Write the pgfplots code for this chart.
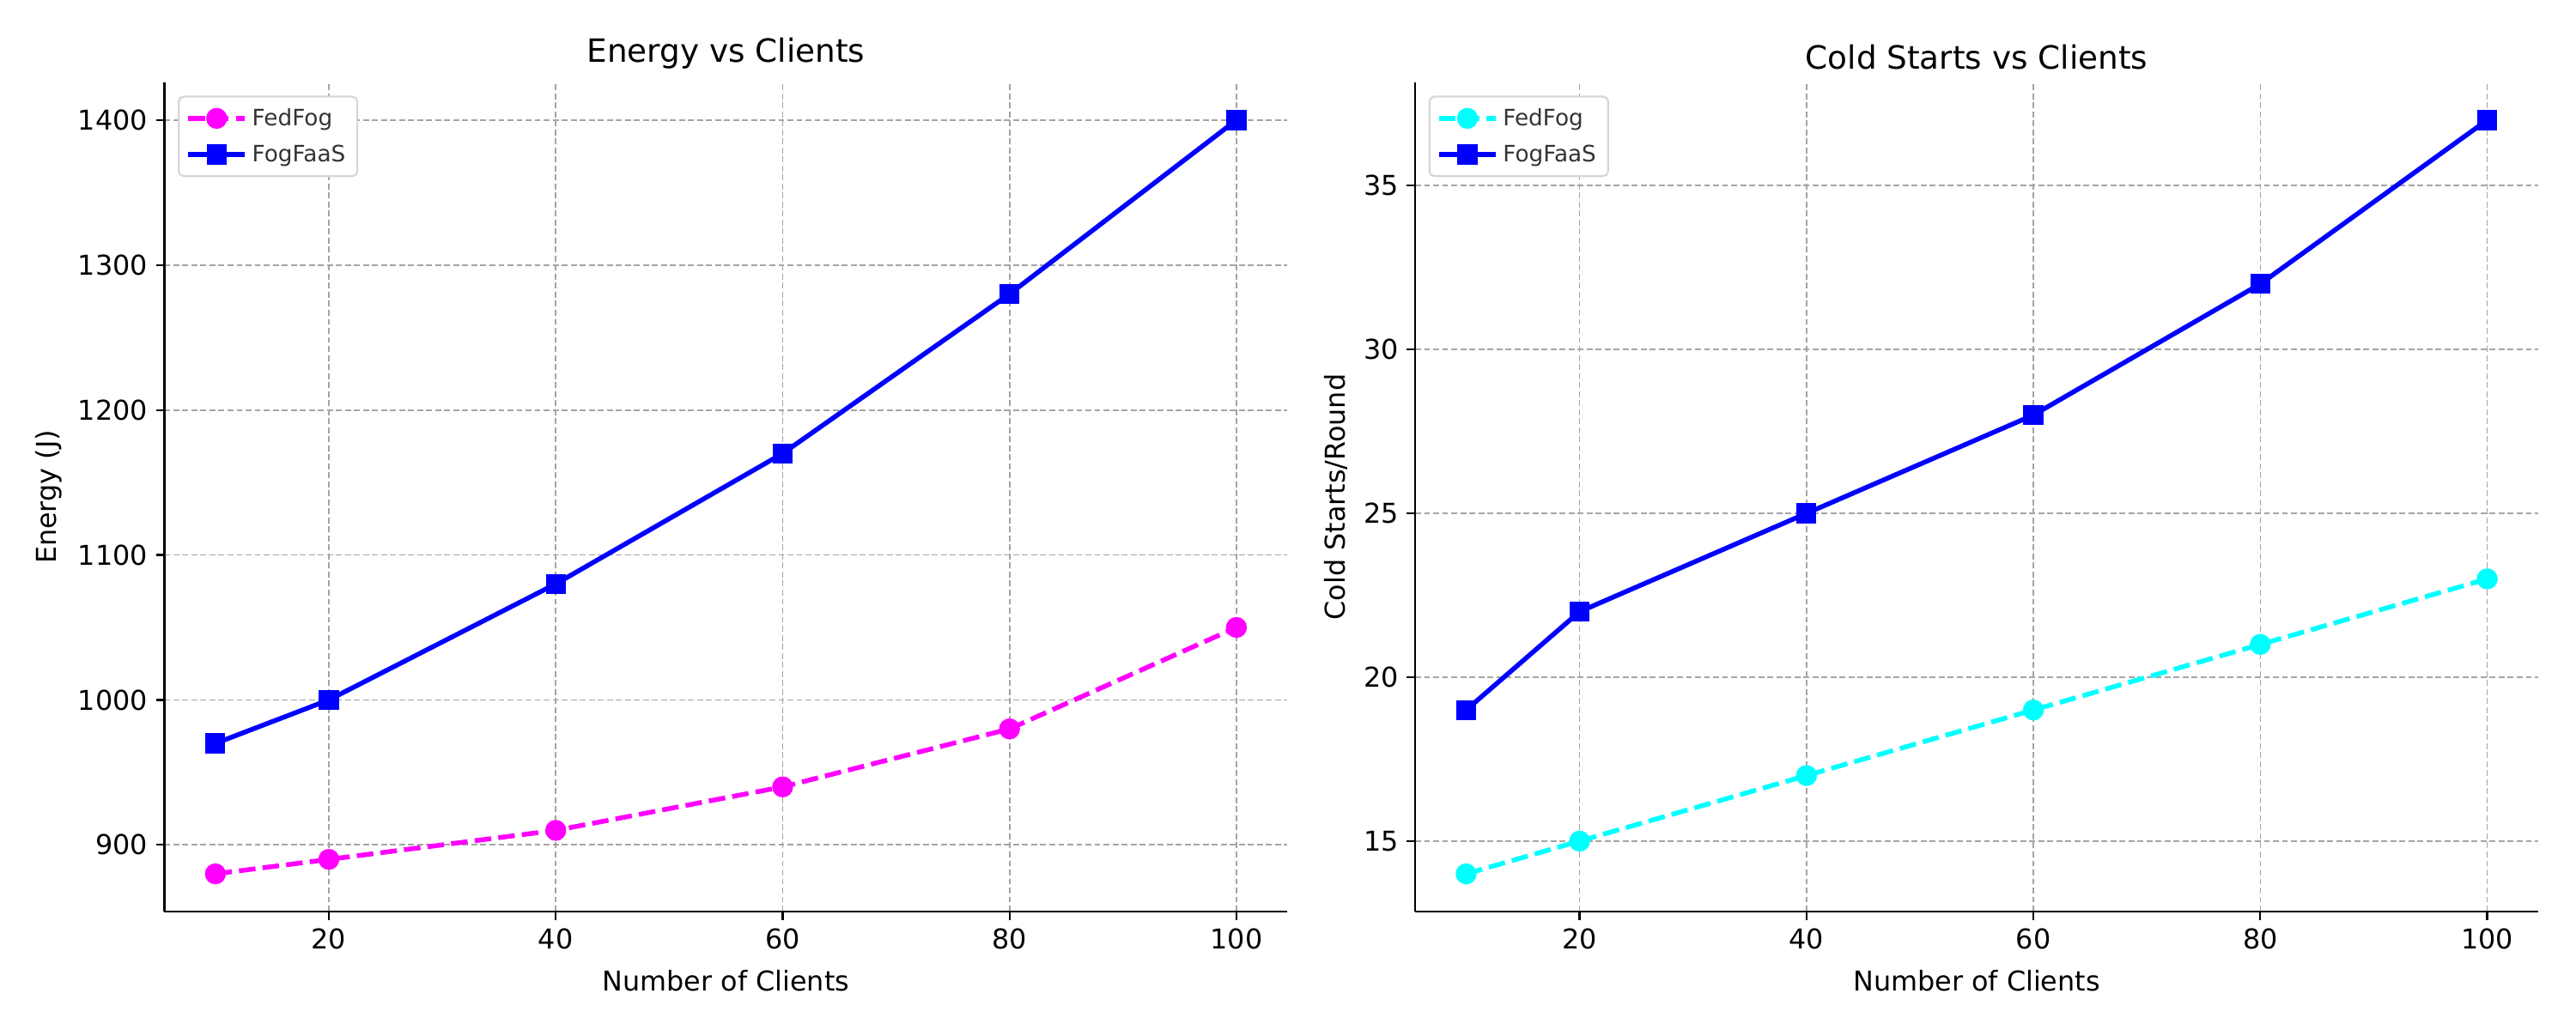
\documentclass[border=0pt]{standalone}
\usepackage{fontspec}
\setmainfont{DejaVu Sans}
\usepackage{pgfplots}
\pgfplotsset{compat=1.18}
\definecolor{gridc}{HTML}{A4A4A4}
\definecolor{legc}{HTML}{D6D6D6}
\definecolor{legt}{HTML}{333333}
\definecolor{mmag}{RGB}{255,0,255}
\definecolor{mcyan}{RGB}{0,255,255}
\definecolor{mblue}{RGB}{0,0,255}
\pgfplotsset{
  myax/.style={
    scale only axis, width=6.54in, height=4.83in,
    axis x line*=bottom, axis y line*=left,
    axis line style={line width=1pt, -},
    tick align=outside, tick style={black, line width=0.8pt},
    major tick length=3.5pt,
    xmin=5.5, xmax=104.5,
    xtick={20,40,60,80,100},
    grid=major,
    major grid style={gridc, line width=0.6pt, dash pattern=on 2.5pt off 1.3pt},
    /pgf/number format/assume math mode=true,
    /pgf/number format/1000 sep={},
    tick label style={font=\fontsize{11.5}{13}\selectfont},
    label style={font=\fontsize{11.5}{13}\selectfont},
    xlabel style={yshift=-2pt},
    title style={font=\fontsize{13.5}{15}\selectfont, yshift=-4pt},
    xlabel={Number of Clients},
    legend cell align=left,
    legend style={at={(0.012,0.984)}, anchor=north west, draw=legc, line width=0.8pt,
      rounded corners=2pt, font=\fontsize{9.5}{11}\selectfont, text=legt,
      inner sep=3pt, row sep=3pt,
      nodes={inner sep=2pt, text depth=0.2ex}},
    legend image code/.code={
      \draw[mark repeat=2,mark phase=2] plot coordinates {(0cm,0cm) (0.42cm,0cm) (0.84cm,0cm)};},
  },
  mline/.style={line width=2pt, mark size=3.4pt},
}
\begin{document}
\begin{tikzpicture}
\path[use as bounding box] (0,0) rectangle (15in,6in);
\begin{axis}[myax, at={(0.957in,0.69in)}, anchor=south west,
  title={Energy vs Clients}, ylabel={Energy (J)},
  ymin=854, ymax=1426, ytick={900,1000,1100,1200,1300,1400}]
\addplot[mline, color=mmag, mark=*, dash pattern=on 7pt off 3pt, mark options={solid}]
  coordinates {(10,880) (20,890) (40,910) (60,940) (80,980) (100,1050)};
\addlegendentry{FedFog}
\addplot[mline, color=mblue, mark=square*, mark size=3.2pt, mark options={solid}]
  coordinates {(10,970) (20,1000) (40,1080) (60,1170) (80,1280) (100,1400)};
\addlegendentry{FogFaaS}
\end{axis}
\begin{axis}[myax, at={(8.24in,0.69in)}, anchor=south west,
  title={Cold Starts vs Clients}, ylabel={Cold Starts/Round},
  ymin=12.85, ymax=38.15, ytick={15,20,25,30,35}]
\addplot[mline, color=mcyan, mark=*, dash pattern=on 7pt off 3pt, mark options={solid}]
  coordinates {(10,14) (20,15) (40,17) (60,19) (80,21) (100,23)};
\addlegendentry{FedFog}
\addplot[mline, color=mblue, mark=square*, mark size=3.2pt, mark options={solid}]
  coordinates {(10,19) (20,22) (40,25) (60,28) (80,32) (100,37)};
\addlegendentry{FogFaaS}
\end{axis}
\end{tikzpicture}
\end{document}
